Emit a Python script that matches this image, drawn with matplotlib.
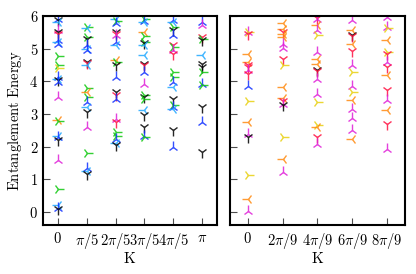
import numpy as np
import matplotlib
matplotlib.use('Agg')
import matplotlib.pyplot as plt

plt.rcParams['mathtext.fontset'] = 'cm'
plt.rcParams['font.family'] = 'serif'
plt.rcParams['font.size'] = 10

# colour codes used in the per-column strings below
col = {'k': 'black', 'b': '#1030ff', 'c': '#20a8ff', 'g': '#10c810',
       'r': '#ff1040', 'm': '#e020d8', 'o': '#ff8a10', 'y': '#e8d010'}
mk = {'k': '1', 'b': '2', 'c': '3', 'g': '4', 'r': '1', 'm': '2', 'o': '3', 'y': '4'}

# --- left panel: K = n*pi/5, n = 0..5 ---
left_K = np.arange(6) * np.pi / 5
left_ticks = [r'$0$', r'$\pi/5$', r'$2\pi/5$', r'$3\pi/5$', r'$4\pi/5$', r'$\pi$']
left_E = [
    [5.92, 5.88, 5.82, 5.56, 5.50, 5.46, 5.26, 5.20, 5.15, 4.77, 4.49, 4.41, 4.13, 4.08,
     4.03, 3.98, 3.52, 2.80, 2.78, 2.34, 2.30, 2.19, 1.58, 0.71, 0.22, 0.12, 0.08],
    [5.66, 5.62, 5.36, 5.30, 5.10, 4.98, 4.95, 4.59, 4.55, 4.49, 3.79, 3.67, 3.52,
     3.36, 3.21, 3.06, 2.60, 1.79, 1.33, 1.25, 1.17],
    [5.92, 5.85, 5.77, 5.52, 5.45, 5.41, 5.21, 5.10, 4.64, 4.60, 4.49, 4.13, 3.67,
     3.57, 3.47, 2.85, 2.75, 2.44, 2.34, 2.22, 2.10, 2.04],
    [5.92, 5.85, 5.82, 5.52, 5.40, 5.21, 5.18, 5.10, 4.80, 4.54, 4.49, 4.28, 3.93,
     3.57, 3.52, 3.47, 3.11, 2.96, 2.60, 2.34, 2.29],
    [5.87, 5.80, 5.67, 5.56, 5.41, 5.10, 5.05, 4.95, 4.85, 4.28, 4.13, 3.98, 3.82,
     3.47, 3.26, 3.22, 3.16, 2.50, 1.99],
    [5.82, 5.72, 5.36, 5.30, 5.26, 4.80, 4.54, 4.44, 4.28, 3.93, 3.88, 3.21, 2.75, 1.84],
]
left_c = [
    'bkcmkrbcb' 'ggybckb' 'mogcbk' 'mgcbk',
    'gcgkbcbkrc' 'gogbck' 'mgbck',
    'cgbkrmbc' 'ogkb' 'krb' 'mrggbck',
    'gbcoggkc' 'ckrb' 'mgkg' 'ckkbg',
    'bcgkbrgmr' 'ggbck' 'gbc' 'kb',
    'bmrgkckkgbgkbk',
]

# --- right panel: K = n*2pi/9, n = 0..4 ---
right_K = np.arange(5) * 2 * np.pi / 9
right_ticks = [r'$0$', r'$2\pi/9$', r'$4\pi/9$', r'$6\pi/9$', r'$8\pi/9$']
right_E = [
    [5.52, 5.50, 5.46, 4.85, 4.59, 4.50, 4.44, 4.33, 4.23, 3.87, 3.39, 2.75, 2.39, 2.30,
     1.13, 0.41, 0.02],
    [5.77, 5.61, 5.50, 5.46, 5.36, 5.15, 5.02, 4.69, 4.49, 3.82, 3.49, 3.39, 3.30,
     3.26, 2.29, 1.63, 1.23],
    [5.95, 5.92, 5.72, 5.56, 5.41, 4.90, 4.69, 4.54, 4.33, 4.30, 4.08, 3.62, 3.36,
     2.65, 2.60, 2.29, 2.09],
    [5.87, 5.56, 5.41, 5.38, 5.15, 4.92, 4.51, 4.28, 3.87, 3.67, 3.44, 3.16, 2.88,
     2.50, 2.24],
    [5.97, 5.67, 5.62, 5.26, 4.90, 4.85, 4.59, 4.44, 4.18, 3.72, 3.42, 3.11, 2.70, 1.94],
]
right_c = [
    'myroorrmr' 'byomk' 'yom',
    'ooroommry' 'oormk' 'yom',
    'rmomymook' 'rmmy' 'yorm',
    'mokrormy' 'myommmo',
    'mmyoyrmro' 'rmorm',
]

for E, c in zip(left_E + right_E, left_c + right_c):
    assert len(E) == len(c), (len(E), len(c))


def draw_panel(ax, Ks, Es, cs):
    for K, E, c in zip(Ks, Es, cs):
        for e, code in zip(E, c):
            ax.plot(K, e, linestyle='none', marker=mk[code], color=col[code],
                    markersize=8, markeredgewidth=1.0, alpha=0.85)
    ax.set_ylim(-0.4, 6)
    ax.set_yticks(range(7))
    ax.tick_params(direction='in', length=5, width=0.8, top=False, right=False,
                   color='0.3', labelsize=10.5)
    ax.tick_params(axis='x', pad=4)
    for s in ax.spines.values():
        s.set_linewidth(1.5)
    ax.set_xlabel(r'$\mathrm{K}$', fontsize=11, labelpad=0)


fig = plt.figure(figsize=(4.16, 2.74), dpi=100)
ax1 = fig.add_axes([0.1034, 0.1788, 0.418, 0.763])
ax2 = fig.add_axes([0.553, 0.1788, 0.4207, 0.763])

draw_panel(ax1, left_K, left_E, left_c)
ax1.set_xlim(-0.32, np.pi + 0.32)
ax1.set_xticks(left_K)
ax1.set_xticklabels(left_ticks)
ax1.set_yticklabels([r'$%d$' % i for i in range(7)])
ax1.set_ylabel(r'$\mathrm{Entanglement\ Energy}$', fontsize=10.5)

draw_panel(ax2, right_K, right_E, right_c)
ax2.set_xlim(-0.355, 8 * np.pi / 9 + 0.36)
ax2.set_xticks(right_K)
ax2.set_xticklabels(right_ticks)
ax2.set_yticklabels([])

fig.savefig('out.png', dpi=100)
